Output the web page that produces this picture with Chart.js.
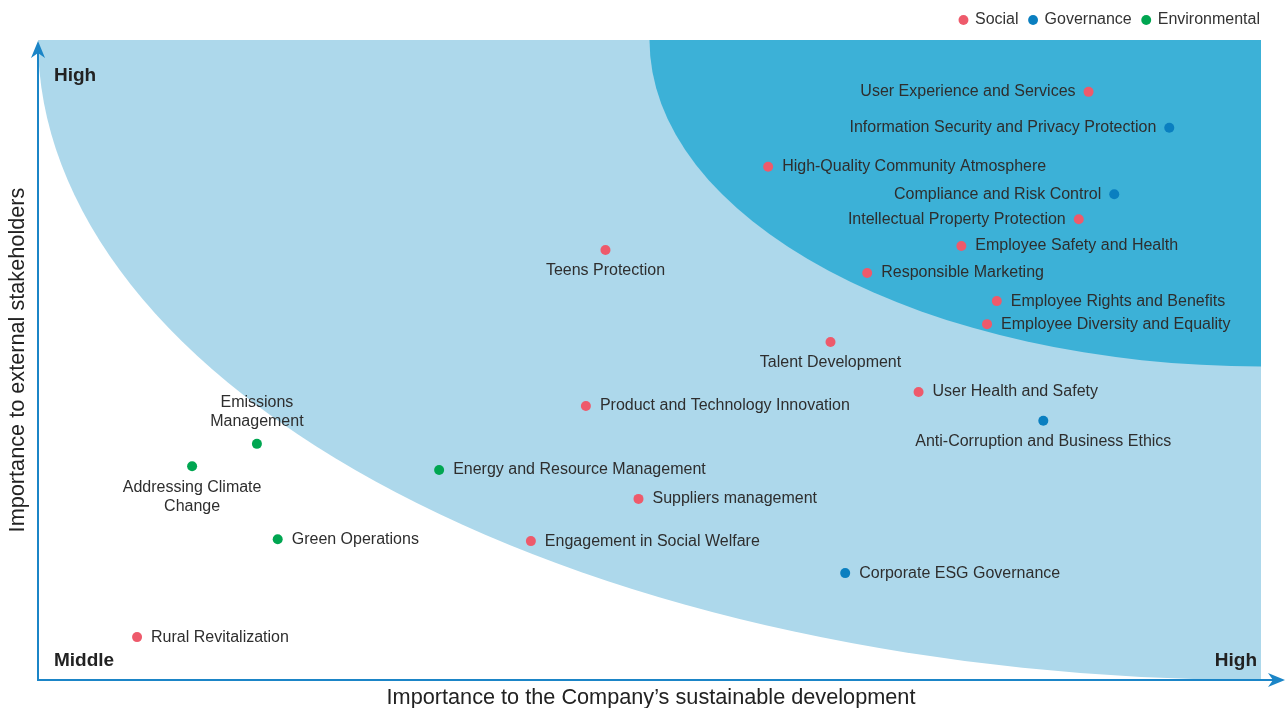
<!DOCTYPE html>
<html>
<head>
<meta charset="utf-8">
<script src="https://cdn.jsdelivr.net/npm/chart.js@4/dist/chart.umd.min.js"></script>
<style>
	html, body { margin: 0; padding: 0; background: #ffffff; }
	#wrap { width: 1285px; height: 708px; position: relative; }
</style>
</head>
<body>
<div id="wrap"><canvas id="matrix"></canvas></div>
<script>
// issue names, scores (0-100 on both axes) and label placement per group
const socialNames = [
	'User Experience and Services', 'High-Quality Community Atmosphere', 'Intellectual Property Protection',
	'Employee Safety and Health', 'Responsible Marketing', 'Employee Rights and Benefits',
	'Employee Diversity and Equality', 'Teens Protection', 'Talent Development', 'User Health and Safety',
	'Product and Technology Innovation', 'Suppliers management', 'Engagement in Social Welfare', 'Rural Revitalization'
];
const socialX = [85.9, 59.7, 85.1, 75.5, 67.8, 78.4, 77.6, 46.4, 64.8, 72.0, 44.8, 49.1, 40.3, 8.1];
const socialY = [91.9, 80.2, 72.0, 67.8, 63.6, 59.2, 55.6, 67.2, 52.8, 45.0, 42.8, 28.3, 21.7, 6.7];
const socialPlace = ['left', 'right', 'left', 'right', 'right', 'right', 'right', 'below', 'below', 'right', 'right', 'right', 'right', 'right'];

const govNames = [
	'Information Security and Privacy Protection', 'Compliance and Risk Control',
	'Anti-Corruption and Business Ethics', 'Corporate ESG Governance'
];
const govX = [92.5, 88.0, 82.2, 66.0];
const govY = [86.3, 75.9, 40.5, 16.7];
const govPlace = ['left', 'left', 'below', 'right'];

const envNames = [
	['Emissions', 'Management'], ['Addressing Climate', 'Change'],
	'Energy and Resource Management', 'Green Operations'
];
const envX = [17.9, 12.6, 32.8, 19.6];
const envY = [36.9, 33.4, 32.8, 22.0];
const envPlace = ['above', 'below', 'right', 'right'];

// priority zones, as radii of quarter ellipses anchored on the top-right corner
const outerZone = [100, 100];
const innerZone = [50, 51];

const cornerLabels = ['High', 'Middle', 'High'];
const axisTitles = ['Importance to the Company\u2019s sustainable development', 'Importance to external stakeholders'];

const colors = { social: '#ee5a6b', gov: '#0a7fc0', env: '#00a651' };
const textColor = '#2e2e2e';
const axisColor = '#1b85c7';
const fontFamily = '"Liberation Sans", Arial, sans-serif';

function points(xs, ys) {
	return xs.map((x, i) => ({ x: x, y: ys[i] }));
}

// nudge the legend box a little right/up after layout
const legendNudge = {
	id: 'legendNudge',
	afterLayout(chart) {
		const lg = chart.legend;
		if (!lg) return;
		lg.right += 10;
		lg.top -= 2;
		lg.bottom -= 2;
	}
};

const zonesPlugin = {
	id: 'zones',
	beforeDatasetsDraw(chart) {
		const { ctx, chartArea: ca, scales: { x, y } } = chart;
		const cx = x.getPixelForValue(100);
		const cy = y.getPixelForValue(100);
		ctx.save();
		ctx.beginPath();
		ctx.rect(ca.left, ca.top, ca.right - ca.left, ca.bottom - ca.top);
		ctx.clip();
		[[outerZone, '#add8eb'], [innerZone, '#3cb1d7']].forEach(([r, fill]) => {
			const rx = cx - x.getPixelForValue(100 - r[0]);
			const ry = y.getPixelForValue(100 - r[1]) - cy;
			ctx.beginPath();
			ctx.ellipse(cx, cy, rx, ry, 0, 0, Math.PI * 2);
			ctx.fillStyle = fill;
			ctx.fill();
		});
		ctx.restore();
	}
};

const labelsPlugin = {
	id: 'pointLabels',
	afterDatasetsDraw(chart) {
		const { ctx } = chart;
		const names = [socialNames, govNames, envNames];
		const places = [socialPlace, govPlace, envPlace];
		ctx.save();
		ctx.font = '16px ' + fontFamily;
		ctx.fillStyle = textColor;
		ctx.textBaseline = 'middle';
		chart.data.datasets.forEach((ds, d) => {
			chart.getDatasetMeta(d).data.forEach((pt, i) => {
				const name = names[d][i];
				const lines = Array.isArray(name) ? name : [name];
				const place = places[d][i];
				if (place === 'right') {
					ctx.textAlign = 'left';
					ctx.fillText(lines[0], pt.x + 14, pt.y);
				} else if (place === 'left') {
					ctx.textAlign = 'right';
					ctx.fillText(lines[0], pt.x - 13, pt.y);
				} else if (place === 'below') {
					ctx.textAlign = 'center';
					lines.forEach((l, k) => ctx.fillText(l, pt.x, pt.y + 21 + k * 19));
				} else {
					ctx.textAlign = 'center';
					lines.forEach((l, k) => ctx.fillText(l, pt.x, pt.y - 22 - (lines.length - 1 - k) * 19));
				}
			});
		});
		ctx.restore();
	}
};

const framePlugin = {
	id: 'frame',
	afterDraw(chart) {
		const { ctx, chartArea: ca, width, height } = chart;
		ctx.save();
		ctx.strokeStyle = axisColor;
		ctx.fillStyle = axisColor;
		ctx.lineWidth = 2;
		ctx.beginPath();
		ctx.moveTo(ca.left, ca.top + 12);
		ctx.lineTo(ca.left, ca.bottom);
		ctx.lineTo(width - 12, ca.bottom);
		ctx.stroke();
		// arrow heads
		ctx.beginPath();
		ctx.moveTo(ca.left, ca.top + 1);
		ctx.lineTo(ca.left + 7, ca.top + 18);
		ctx.lineTo(ca.left, ca.top + 13);
		ctx.lineTo(ca.left - 7, ca.top + 18);
		ctx.closePath();
		ctx.fill();
		ctx.beginPath();
		ctx.moveTo(width, ca.bottom);
		ctx.lineTo(width - 17, ca.bottom - 7);
		ctx.lineTo(width - 12, ca.bottom);
		ctx.lineTo(width - 17, ca.bottom + 7);
		ctx.closePath();
		ctx.fill();

		// corner labels
		ctx.fillStyle = '#222222';
		ctx.font = 'bold 19px ' + fontFamily;
		ctx.textBaseline = 'middle';
		ctx.textAlign = 'left';
		ctx.fillText(cornerLabels[0], ca.left + 16, ca.top + 36);
		ctx.fillText(cornerLabels[1], ca.left + 16, ca.bottom - 19);
		ctx.textAlign = 'right';
		ctx.fillText(cornerLabels[2], ca.right - 4, ca.bottom - 19);

		// axis titles
		ctx.font = '21.7px ' + fontFamily;
		ctx.textAlign = 'center';
		ctx.fillText(axisTitles[0], 651, height - 10);
		ctx.translate(18, (ca.top + ca.bottom) / 2);
		ctx.rotate(-Math.PI / 2);
		ctx.fillText(axisTitles[1], 0, 0);
		ctx.restore();
	}
};

const ctx = document.getElementById('matrix').getContext('2d');
const matrixChart = new Chart(ctx, {
	type: 'scatter',
	data: {
		datasets: [{
			label: 'Social',
			data: points(socialX, socialY),
			backgroundColor: colors.social,
			borderWidth: 0,
			pointRadius: 5,
			pointHoverRadius: 5
		}, {
			label: 'Governance',
			data: points(govX, govY),
			backgroundColor: colors.gov,
			borderWidth: 0,
			pointRadius: 5,
			pointHoverRadius: 5
		}, {
			label: 'Environmental',
			data: points(envX, envY),
			backgroundColor: colors.env,
			borderWidth: 0,
			pointRadius: 5,
			pointHoverRadius: 5
		}]
	},
	options: {
		responsive: true,
		maintainAspectRatio: false,
		animation: false,
		layout: {
			padding: { left: 38, right: 24, top: 3, bottom: 28 }
		},
		plugins: {
			legend: {
				position: 'top',
				align: 'end',
				labels: {
					usePointStyle: true,
					pointStyle: 'circle',
					boxWidth: 7,
					boxHeight: 7,
					padding: 11,
					color: '#333333',
					font: { size: 16, family: fontFamily }
				}
			},
			tooltip: { enabled: false }
		},
		scales: {
			x: { type: 'linear', min: 0, max: 100, display: false },
			y: { type: 'linear', min: 0, max: 100, display: false }
		}
	},
	plugins: [legendNudge, zonesPlugin, labelsPlugin, framePlugin]
});
</script>
</body>
</html>
